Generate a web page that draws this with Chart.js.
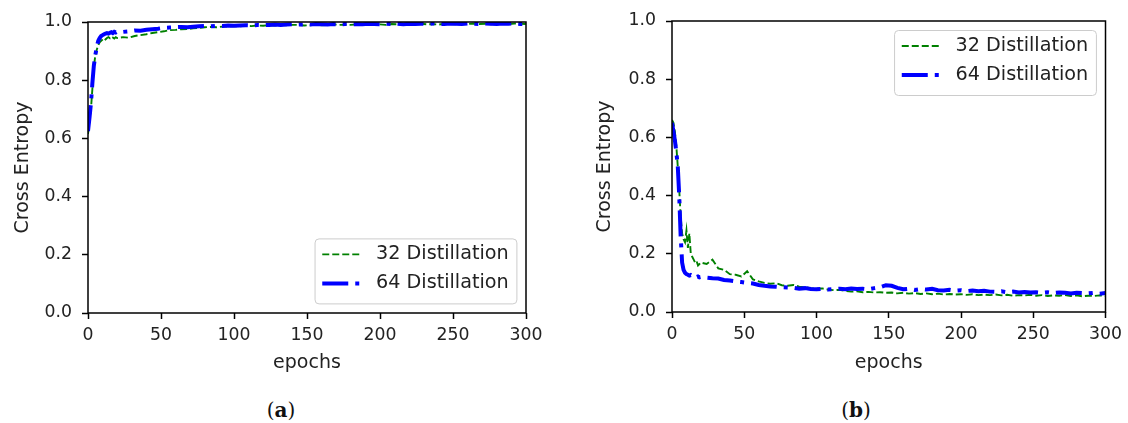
<!DOCTYPE html>
<html>
<head>
<meta charset="utf-8">
<script src="https://cdn.jsdelivr.net/npm/chart.js@4.4.0/dist/chart.umd.min.js"></script>
<style>
  body { margin: 0; background: #fff; width: 1128px; height: 423px; overflow: hidden; position: relative; }
  .panel { position: absolute; top: 0; width: 564px; height: 380px; }
  .cap { position: absolute; top: 398px; line-height: 22px; font: 20px "DejaVu Serif"; color: #111; transform: translateX(-50%); }
</style>
</head>
<body>
<div class="panel" style="left:0"><canvas id="chartA" width="564" height="380"></canvas></div>
<div class="panel" style="left:564px"><canvas id="chartB" width="564" height="380"></canvas></div>
<div class="cap" style="left:281px">(<b>a</b>)</div>
<div class="cap" style="left:856px">(<b>b</b>)</div>
<script>
// epochs sampled: every epoch up to 20, then every 4
const epochs = [0,1,2,3,4,5,6,7,8,9,10,11,12,13,14,15,16,17,18,19,20,
  24,28,32,36,40,44,48,52,56,60,
  64,68,72,76,80,84,88,92,96,100,
  104,108,112,116,120,124,128,132,136,140,
  144,148,152,156,160,164,168,172,176,180,
  184,188,192,196,200,204,208,212,216,220,
  224,228,232,236,240,244,248,252,256,260,
  264,268,272,276,280,284,288,292,296,300];

const seriesLabels = ['32 Distillation', '64 Distillation'];
const xTicks = [0, 50, 100, 150, 200, 250, 300];
const yTicks = [0, 0.2, 0.4, 0.6, 0.8, 1.0];

// (a)
const accA32 = [0.615,0.66,0.70,0.77,0.845,0.885,0.905,0.92,0.93,0.935,0.94,0.945,0.94,0.945,0.948,0.944,0.95,0.947,0.943,0.948,0.945,
  0.948,0.946,0.952,0.955,0.958,0.962,0.965,0.968,0.972,0.973,
  0.975,0.976,0.978,0.98,0.982,0.983,0.982,0.984,0.985,0.986,
  0.985,0.987,0.986,0.988,0.987,0.989,0.988,0.99,0.989,0.99,
  0.99,0.988,0.989,0.991,0.989,0.99,0.992,0.99,0.991,0.99,
  0.992,0.991,0.993,0.991,0.992,0.99,0.993,0.992,0.991,0.993,
  0.992,0.994,0.992,0.993,0.991,0.994,0.993,0.992,0.994,0.993,
  0.995,0.993,0.994,0.992,0.995,0.994,0.993,0.995,0.994,0.993];
const accA64 = [0.625,0.67,0.72,0.79,0.85,0.885,0.915,0.935,0.945,0.952,0.955,0.958,0.96,0.962,0.96,0.963,0.965,0.962,0.966,0.964,0.967,
  0.966,0.968,0.971,0.97,0.973,0.975,0.977,0.98,0.981,0.982,
  0.983,0.982,0.984,0.985,0.986,0.985,0.987,0.986,0.988,0.987,
  0.988,0.989,0.988,0.99,0.989,0.99,0.991,0.99,0.991,0.992,
  0.991,0.992,0.991,0.993,0.992,0.991,0.993,0.992,0.993,0.992,
  0.993,0.992,0.994,0.993,0.992,0.994,0.993,0.994,0.992,0.994,
  0.993,0.994,0.993,0.995,0.994,0.993,0.995,0.994,0.993,0.995,
  0.994,0.993,0.995,0.994,0.993,0.995,0.994,0.995,0.993,0.994];

// (b)
const lossB32 = [0.66,0.65,0.62,0.57,0.50,0.42,0.33,0.27,0.25,0.24,0.28,0.22,0.27,0.2,0.19,0.18,0.17,0.175,0.16,0.165,0.17,
  0.165,0.18,0.15,0.145,0.13,0.128,0.122,0.14,0.112,0.105,
  0.1,0.097,0.099,0.092,0.09,0.093,0.087,0.085,0.082,0.08,
  0.081,0.077,0.075,0.076,0.072,0.07,0.071,0.068,0.069,0.067,
  0.068,0.066,0.067,0.064,0.066,0.063,0.065,0.062,0.064,0.061,
  0.063,0.06,0.062,0.06,0.061,0.059,0.061,0.058,0.06,0.058,
  0.06,0.057,0.059,0.056,0.058,0.057,0.059,0.056,0.058,0.055,
  0.057,0.056,0.058,0.055,0.057,0.054,0.056,0.055,0.057,0.055];
const lossB64 = [0.65,0.62,0.59,0.55,0.50,0.40,0.26,0.17,0.145,0.135,0.13,0.128,0.125,0.127,0.124,0.122,0.125,0.12,0.122,0.119,0.12,
  0.118,0.116,0.115,0.11,0.108,0.105,0.103,0.1,0.098,0.093,
  0.09,0.088,0.087,0.085,0.084,0.083,0.08,0.082,0.079,0.078,
  0.08,0.077,0.079,0.08,0.078,0.081,0.079,0.08,0.078,0.082,
  0.085,0.092,0.09,0.083,0.078,0.08,0.076,0.079,0.077,0.08,
  0.075,0.074,0.076,0.073,0.075,0.072,0.074,0.071,0.073,0.07,
  0.069,0.071,0.068,0.07,0.067,0.069,0.067,0.068,0.066,0.068,
  0.065,0.067,0.066,0.064,0.066,0.065,0.064,0.066,0.063,0.065];

Chart.defaults.font.family = '"DejaVu Sans"';
Chart.defaults.color = '#222';

// frame around the plot area + matplotlib style legend box
const frameLegend = {
  id: 'frameLegend',
  afterDatasetsDraw(chart) {
    const {ctx, chartArea: a} = chart;
    ctx.save();
    ctx.strokeStyle = '#000';
    ctx.lineWidth = 1.5;
    ctx.strokeRect(a.left, a.top, a.right - a.left, a.bottom - a.top);
    ctx.restore();
  },
  afterDraw(chart, args, opts) {
    const {ctx, chartArea: a} = chart;
    const sets = chart.data.datasets;
    ctx.save();
    ctx.font = '19.2px "DejaVu Sans"';
    const textW = Math.max(...sets.map(d => ctx.measureText(d.label).width));
    const w = 7.7 + 38.4 + 15.4 + textW + 7.7;
    const h = 16 + 29 * (sets.length - 1) + 20;
    const x = a.right - 9.6 - w;
    const y = opts.corner === 'upper right' ? a.top + 9 : a.bottom - 9.6 - h;
    ctx.beginPath();
    ctx.roundRect(x + 0.5, y + 0.5, w, h, 4);
    ctx.fillStyle = 'rgba(255,255,255,0.8)';
    ctx.fill();
    ctx.strokeStyle = '#cccccc';
    ctx.lineWidth = 1;
    ctx.stroke();
    sets.forEach((d, i) => {
      const cy = y + 16 + i * 29;
      ctx.beginPath();
      ctx.setLineDash(d.borderDash || []);
      ctx.lineWidth = d.borderWidth;
      ctx.strokeStyle = d.borderColor;
      ctx.lineCap = 'butt';
      ctx.moveTo(x + 7.7, cy);
      ctx.lineTo(x + 7.7 + 38.4, cy);
      ctx.stroke();
      ctx.setLineDash([]);
      ctx.fillStyle = '#222';
      ctx.textBaseline = 'middle';
      ctx.textAlign = 'left';
      ctx.fillText(d.label, x + 7.7 + 38.4 + 15.4, cy);
    });
    ctx.restore();
  }
};

function buildChart(id, s32, s64, cfg) {
  return new Chart(document.getElementById(id), {
    type: 'line',
    data: {
      datasets: [
        {
          label: seriesLabels[0],
          data: epochs.map((e, i) => ({x: e, y: s32[i]})),
          borderColor: '#008000', borderWidth: 1.9, borderDash: [7, 3],
          pointRadius: 0, tension: 0, order: 1
        },
        {
          label: seriesLabels[1],
          data: epochs.map((e, i) => ({x: e, y: s64[i]})),
          borderColor: '#0000ff', borderWidth: 4, borderDash: [26, 7, 4, 7],
          pointRadius: 0, tension: 0, order: 0
        }
      ]
    },
    options: {
      responsive: false,
      animation: false,
      layout: {padding: cfg.padding},
      plugins: {
        legend: {display: false},
        tooltip: {enabled: false},
        frameLegend: {corner: cfg.corner}
      },
      scales: {
        x: {
          type: 'linear', min: 0, max: 300,
          afterBuildTicks: s => { s.ticks = xTicks.map(v => ({value: v})); },
          afterFit: s => { s.height = cfg.xHeight; },
          grid: {drawOnChartArea: false, tickLength: 6, tickColor: '#000', tickWidth: 1.5},
          border: {display: false},
          ticks: {padding: 6, maxRotation: 0, font: {size: 17.3}},
          title: {display: true, text: 'epochs', font: {size: 19}, padding: {top: 0, bottom: 6}}
        },
        y: {
          min: 0, max: 1,
          afterBuildTicks: s => { s.ticks = yTicks.map(v => ({value: v})); },
          afterFit: s => { s.width = cfg.yWidth; },
          grid: {drawOnChartArea: false, tickLength: 6, tickColor: '#000', tickWidth: 1.5},
          border: {display: false},
          ticks: {padding: 10, font: {size: 17.3}, callback: v => v.toFixed(1)},
          title: {display: true, text: 'Cross Entropy', font: {size: 19}, padding: {top: 12, bottom: 0}}
        }
      }
    },
    plugins: [frameLegend]
  });
}

buildChart('chartA', accA32, accA64, {
  padding: {left: 0, right: 38, top: 22, bottom: 0}, yWidth: 88, xHeight: 67, corner: 'lower right'
});
buildChart('chartB', lossB32, lossB64, {
  padding: {left: 18, right: 20, top: 21, bottom: 0}, yWidth: 90, xHeight: 68, corner: 'upper right'
});
</script>
</body>
</html>
